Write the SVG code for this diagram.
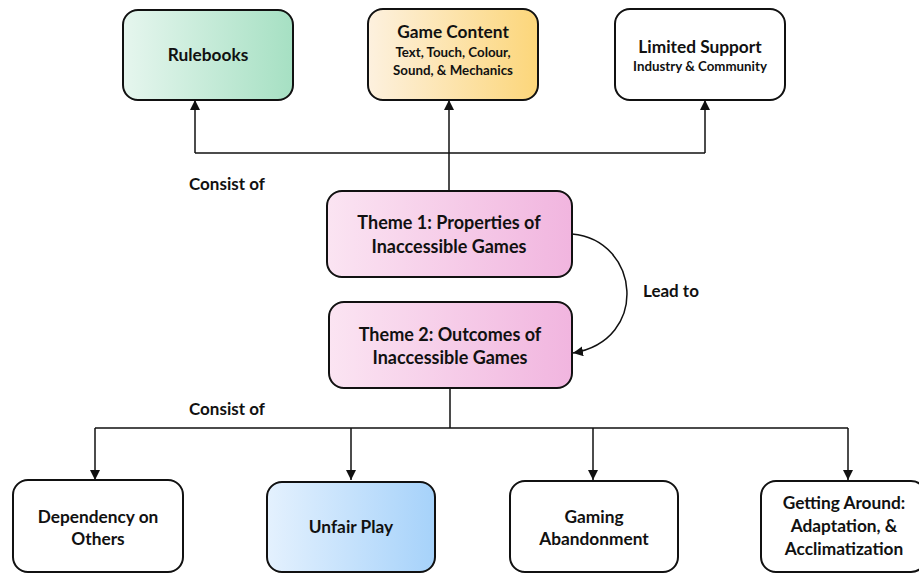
<svg xmlns="http://www.w3.org/2000/svg" width="919" height="573" viewBox="0 0 919 573">
<defs>
<linearGradient id="gGreen" x1="0" x2="1" y1="0" y2="0"><stop offset="0" stop-color="#e6f6ee"/><stop offset="1" stop-color="#a6e0c3"/></linearGradient>
<linearGradient id="gYellow" x1="0" x2="1" y1="0" y2="0"><stop offset="0" stop-color="#fdf1df"/><stop offset="1" stop-color="#fcd67a"/></linearGradient>
<linearGradient id="gPink" x1="0" x2="1" y1="0" y2="0"><stop offset="0" stop-color="#fbe4f2"/><stop offset="1" stop-color="#f1b5df"/></linearGradient>
<linearGradient id="gBlue" x1="0" x2="1" y1="0" y2="0"><stop offset="0" stop-color="#e4f1fe"/><stop offset="1" stop-color="#a6d2fa"/></linearGradient>
<marker id="arr" viewBox="0 0 10 10" refX="10" refY="5" markerWidth="10" markerHeight="10" markerUnits="userSpaceOnUse" orient="auto"><path d="M0,0 L10,5 L0,10 z" fill="#111"/></marker>
</defs>
<style>
.box{stroke:#111;stroke-width:2}
.t{font-family:Lato,"Liberation Sans",sans-serif;font-weight:bold;fill:#111;text-anchor:middle}
.t16{font-size:17.3px}
.t17{font-size:18px}
.t12{font-size:13.3px}
.lbl{font-family:Lato,"Liberation Sans",sans-serif;font-weight:bold;font-size:17px;fill:#111}
.c{fill:none;stroke:#111;stroke-width:1.5}
</style>
<rect width="919" height="573" fill="#fff"/>
<g id="connectors">
<path class="c" d="M449,191 V100" marker-end="url(#arr)"/>
<path class="c" d="M195,153 H705"/>
<path class="c" d="M195,153 V100" marker-end="url(#arr)"/>
<path class="c" d="M705,153 V100" marker-end="url(#arr)"/>
<path class="c" d="M572,234 C640,240 650,340 573,353" marker-end="url(#arr)"/>
<path class="c" d="M450,388 V428 M95,428 H848"/>
<path class="c" d="M95,428 V480" marker-end="url(#arr)"/>
<path class="c" d="M351,428 V480" marker-end="url(#arr)"/>
<path class="c" d="M593,428 V480" marker-end="url(#arr)"/>
<path class="c" d="M848,428 V480" marker-end="url(#arr)"/>
<text class="lbl" x="189" y="190">Consist of</text>
<text class="lbl" x="189" y="415">Consist of</text>
<text class="lbl" x="643" y="297">Lead to</text>
</g>
<g id="rulebooks">
<rect class="box" x="123" y="10" width="170" height="90" rx="15" fill="url(#gGreen)"/>
<text class="t t16" x="208" y="61">Rulebooks</text>
</g>
<g id="gamecontent">
<rect class="box" x="368" y="9" width="170" height="91" rx="15" fill="url(#gYellow)"/>
<text class="t t16" x="453" y="38">Game Content</text>
<text class="t t12" x="453" y="57">Text, Touch, Colour,</text>
<text class="t t12" x="453" y="75">Sound, &amp; Mechanics</text>
</g>
<g id="limitedsupport">
<rect class="box" x="615" y="9" width="170" height="91" rx="15" fill="#fff"/>
<text class="t t16" x="700" y="53">Limited Support</text>
<text class="t t12" x="700" y="71">Industry &amp; Community</text>
</g>
<g id="theme1">
<rect class="box" x="327" y="191" width="245" height="86" rx="15" fill="url(#gPink)"/>
<text class="t t17" x="449" y="229">Theme 1: Properties of</text>
<text class="t t17" x="449" y="253">Inaccessible Games</text>
</g>
<g id="theme2">
<rect class="box" x="329" y="302" width="243" height="86" rx="15" fill="url(#gPink)"/>
<text class="t t17" x="450" y="341">Theme 2: Outcomes of</text>
<text class="t t17" x="450" y="364">Inaccessible Games</text>
</g>
<g id="dependency">
<rect class="box" x="13" y="480" width="170" height="92" rx="15" fill="#fff"/>
<text class="t t16" x="98" y="523">Dependency on</text>
<text class="t t16" x="98" y="545">Others</text>
</g>
<g id="unfairplay">
<rect class="box" x="267" y="482" width="168" height="90" rx="15" fill="url(#gBlue)"/>
<text class="t t16" x="351" y="533">Unfair Play</text>
</g>
<g id="abandonment">
<rect class="box" x="510" y="481" width="168" height="91" rx="15" fill="#fff"/>
<text class="t t16" x="594" y="523">Gaming</text>
<text class="t t16" x="594" y="545">Abandonment</text>
</g>
<g id="gettingaround">
<rect class="box" x="761" y="481" width="165" height="91" rx="15" fill="#fff"/>
<text class="t t16" x="844" y="509">Getting Around:</text>
<text class="t t16" x="844" y="532">Adaptation, &amp;</text>
<text class="t t16" x="844" y="555">Acclimatization</text>
</g>
</svg>
